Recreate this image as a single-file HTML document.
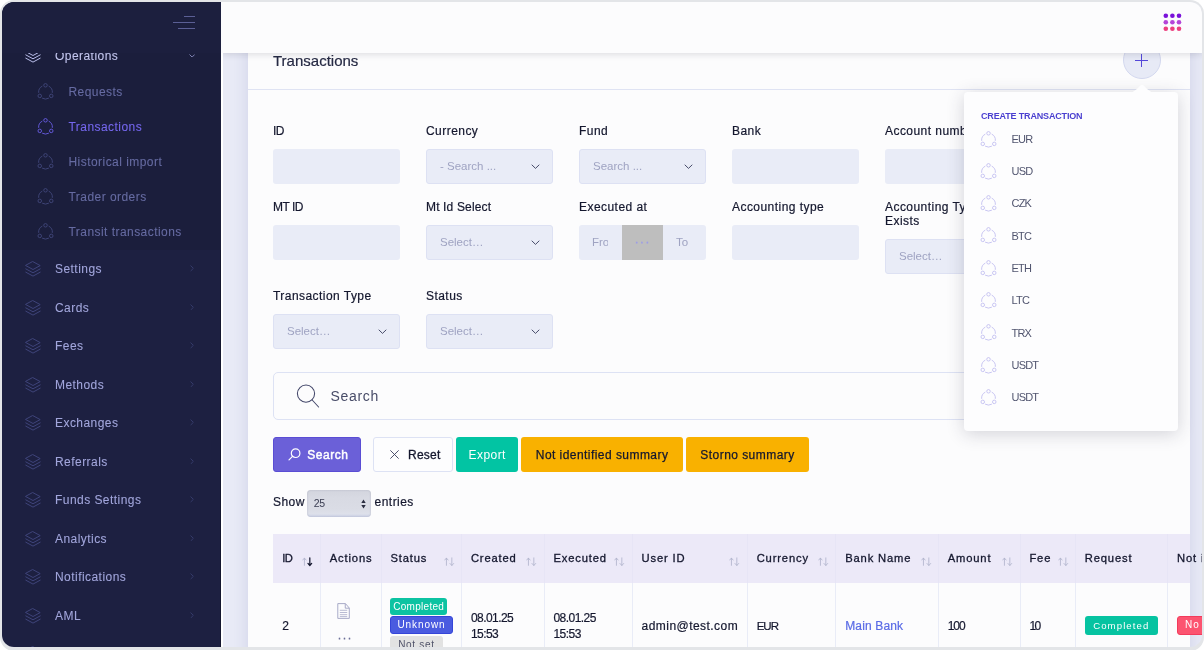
<!DOCTYPE html>
<html lang="en">
<head>
<meta charset="utf-8">
<title>Transactions</title>
<style>
*{box-sizing:border-box;margin:0;padding:0}
html,body{width:1204px;height:650px;overflow:hidden;background:#fff;font-family:"Liberation Sans",sans-serif;font-size:13px;color:#1f2340}
#frame{position:absolute;left:0;top:0;width:1204px;height:650.5px;border-radius:14px;background:#e3e5e8;overflow:hidden}
#app{will-change:transform;position:absolute;left:2px;top:2px;width:1200px;height:645.2px;border-radius:12px;overflow:hidden;background:#e8eaf6}
.abs{position:absolute}
/* sidebar */
#side{position:absolute;left:0;top:0;width:219.1px;height:645px;background:#1d2041;border-right:1px solid #14162f}
#submenu{position:absolute;left:0;top:50px;width:219px;height:198px;background:#1b1e3c}
.mi{position:absolute;left:53px;font-size:12px;letter-spacing:.45px;color:#a2a6dc;white-space:nowrap;line-height:16px}
.si{position:absolute;left:66.5px;font-size:12px;letter-spacing:.45px;color:#666ba2;white-space:nowrap;line-height:16px}
.si.act{color:#7567ee}
.chev{position:absolute;left:186px;width:7px;height:7px}
/* header */
#top{position:absolute;left:219.1px;top:0;width:981px;height:50.7px;background:#fcfcfd;box-shadow:0 1px 7px rgba(30,30,50,.16)}
/* card */
#card{position:absolute;left:246px;top:30px;width:942px;height:640px;background:#fcfcfd;box-shadow:0 0 14px rgba(80,90,160,.16)}
#chead{position:absolute;left:0;top:0;width:942px;height:58px;border-bottom:1px solid #dfe3f3}
h1{position:absolute;left:271px;top:49.7px;font-size:15px;font-weight:400;color:#262a44;line-height:18px;-webkit-text-stroke:.2px #262a44}
.lbl{position:absolute;font-size:13px;line-height:15px;color:#14172e;white-space:nowrap}
.inp{position:absolute;width:127px;height:35px;background:#e9ecf7;border-radius:3px}
.sel{position:absolute;width:127px;height:35px;background:#e9ecf7;border:1px solid #dde1f3;border-radius:3px;color:#9fa3c2;line-height:33px;padding-left:13px}
.sel svg{position:absolute;right:12px;top:14px}
.btn{position:absolute;top:435px;height:35.3px;border-radius:3px;font-size:13px;line-height:35px;text-align:center;white-space:nowrap}
.lbl,.bt{font-size:12px;letter-spacing:.45px}
.sel,.ph{font-size:11.5px;letter-spacing:0}
.ph{color:#9fa3c2;line-height:34px}
.lbl,.td{-webkit-text-stroke:.2px currentColor}
.mi,.si{-webkit-text-stroke:.08px currentColor}
.bt{white-space:nowrap}
.th{position:absolute;top:549.3px;font-size:11.2px;letter-spacing:.85px;line-height:15px;color:#14172e;white-space:nowrap;-webkit-text-stroke:.3px #14172e}
.td{position:absolute;font-size:12px;letter-spacing:.45px;line-height:15px;color:#14172e;white-space:nowrap}
.bdg{position:absolute;border-radius:3px;color:#fff;text-align:center;white-space:nowrap;overflow:hidden}
.dd{position:absolute;left:1009.6px;font-size:11px;letter-spacing:-.85px;line-height:15px;color:#51556f;white-space:nowrap}
</style>
</head>
<body>
<div id="frame"><div id="app">

<!-- page content -->
<div id="card"><div id="chead"></div></div>
<h1>Transactions</h1>
<!-- filter form -->
<div class="lbl" style="left:271px;top:121.5px;letter-spacing:-.7px">ID</div>
<div class="lbl" style="left:424px;top:121.5px">Currency</div>
<div class="lbl" style="left:577px;top:121.5px">Fund</div>
<div class="lbl" style="left:730px;top:121.5px">Bank</div>
<div class="lbl" style="left:883px;top:121.5px">Account number</div>
<div class="inp" style="left:271px;top:147px"></div>
<div class="sel" style="left:424px;top:147px">- Search ...<svg width="9" height="6" viewBox="0 0 9 6"><path d="M1 1 4.5 4.4 8 1" fill="none" stroke="#3f4362" stroke-width=".95" stroke-linecap="round" stroke-linejoin="round"/></svg></div>
<div class="sel" style="left:577px;top:147px">Search ...<svg width="9" height="6" viewBox="0 0 9 6"><path d="M1 1 4.5 4.4 8 1" fill="none" stroke="#3f4362" stroke-width=".95" stroke-linecap="round" stroke-linejoin="round"/></svg></div>
<div class="inp" style="left:730px;top:147px"></div>
<div class="inp" style="left:883px;top:147px"></div>
<div class="lbl" style="left:271px;top:197.5px;letter-spacing:-.5px">MT ID</div>
<div class="lbl" style="left:424px;top:197.5px;letter-spacing:.15px">Mt Id Select</div>
<div class="lbl" style="left:577px;top:197.5px">Executed at</div>
<div class="lbl" style="left:730px;top:197.5px">Accounting type</div>
<div class="lbl" style="left:883px;top:197.5px;white-space:normal;width:127px;line-height:14px">Accounting Type Exists</div>
<div class="inp" style="left:271px;top:223px"></div>
<div class="sel" style="left:424px;top:223px">Select…<svg width="9" height="6" viewBox="0 0 9 6"><path d="M1 1 4.5 4.4 8 1" fill="none" stroke="#3f4362" stroke-width=".95" stroke-linecap="round" stroke-linejoin="round"/></svg></div>
<div class="inp" style="left:730px;top:223px"></div>
<div class="sel" style="left:883px;top:237px">Select…<svg width="9" height="6" viewBox="0 0 9 6"><path d="M1 1 4.5 4.4 8 1" fill="none" stroke="#3f4362" stroke-width=".95" stroke-linecap="round" stroke-linejoin="round"/></svg></div>
<div class="inp" style="left:577px;top:223px;overflow:hidden"><span class="abs ph" style="left:13px;top:0;width:15.5px;overflow:hidden">From</span><div class="abs" style="left:43px;top:0;width:41px;height:35px;background:#bebebe;color:#9c9ce8;text-align:center;line-height:33px;font-size:13px;letter-spacing:1px;-webkit-text-stroke:.3px #9c9ce8">···</div><span class="abs ph" style="left:97px;top:0">To</span></div>
<div class="lbl" style="left:271px;top:286.5px">Transaction Type</div>
<div class="lbl" style="left:424px;top:286.5px">Status</div>
<div class="sel" style="left:271px;top:312px">Select…<svg width="9" height="6" viewBox="0 0 9 6"><path d="M1 1 4.5 4.4 8 1" fill="none" stroke="#3f4362" stroke-width=".95" stroke-linecap="round" stroke-linejoin="round"/></svg></div>
<div class="sel" style="left:424px;top:312px">Select…<svg width="9" height="6" viewBox="0 0 9 6"><path d="M1 1 4.5 4.4 8 1" fill="none" stroke="#3f4362" stroke-width=".95" stroke-linecap="round" stroke-linejoin="round"/></svg></div>
<div class="abs" style="left:271px;top:370px;width:905px;height:47.5px;border:1px solid #dde2f4;border-radius:5px;background:#fcfcfd"></div>
<svg class="abs" style="left:293px;top:381px" width="26" height="26" viewBox="0 0 26 26"><circle cx="11" cy="10.6" r="8.6" fill="none" stroke="#43476a" stroke-width="1.05"/><path d="M17.2 17 23.6 24" stroke="#43476a" stroke-width="1.05" stroke-linecap="round"/></svg>
<div class="abs" style="left:328.5px;top:384.7px;font-size:14px;line-height:18px;color:#484c68;letter-spacing:.68px">Search</div>
<div class="btn" style="left:271px;width:88px;background:#6b60d8;border:1px solid #5a4dd4;color:#fff"><svg class="abs" style="left:14px;top:10.4px" width="13" height="13" viewBox="0 0 13 13"><circle cx="7.6" cy="5.2" r="4.3" fill="none" stroke="#fff" stroke-width="1.2"/><path d="M4.5 8.3 1 11.9" stroke="#fff" stroke-width="1.2" stroke-linecap="round"/></svg><span class="abs bt" style="left:33.3px;top:0;-webkit-text-stroke:.45px #fff;letter-spacing:.5px">Search</span></div>
<div class="btn" style="left:371.2px;width:79.4px;background:#fdfdfe;border:1px solid #dde2f4;color:#14172e"><svg class="abs" style="left:15.8px;top:12.3px" width="9" height="9" viewBox="0 0 10 10"><path d="M.7 .7 9.3 9.3M9.3 .7 .7 9.3" stroke="#3a3e5c" stroke-width="1" stroke-linecap="round"/></svg><span class="abs bt" style="left:33.8px;top:0;-webkit-text-stroke:.3px #14172e;letter-spacing:.25px">Reset</span></div>
<div class="btn" style="left:454px;width:62.4px;background:#02c4a3;color:#fff"><span class="bt">Export</span></div>
<div class="btn" style="left:519.2px;width:161.8px;background:#f9b100;color:#14172e"><span class="bt" style="-webkit-text-stroke:.25px #14172e">Not identified summary</span></div>
<div class="btn" style="left:684px;width:123px;background:#f9b100;color:#14172e"><span class="bt" style="-webkit-text-stroke:.25px #14172e">Storno summary</span></div>
<div class="lbl" style="left:271px;top:493px">Show</div>
<div class="abs" style="left:305.3px;top:488px;width:63.8px;height:26.5px;border-radius:4px;background:linear-gradient(#d3d5de,#d8dae3 30%,#dadce5 70%,#dde0ea 88%,#cdd2e6);box-shadow:inset 0 0 2px rgba(90,95,130,.3);font-size:10.5px;line-height:27px;padding-left:6.5px;color:#3a3d52;letter-spacing:-.3px">25<svg class="abs" style="right:5px;top:9px" width="5" height="10" viewBox="0 0 5 10"><path d="M2.5 .5 4.7 4H.3ZM2.5 9.5 4.7 6H.3Z" fill="#2a2d40"/></svg></div>
<div class="lbl" style="left:372.6px;top:493px">entries</div>
<!-- table -->
<div class="abs" style="left:271px;top:532px;width:917px;height:48.5px;background:#ece9f8"></div>
<div class="abs" style="left:317.5px;top:532px;width:1px;height:48.5px;background:#e7e5f6"></div><div class="abs" style="left:379.1px;top:532px;width:1px;height:48.5px;background:#e7e5f6"></div><div class="abs" style="left:459.0px;top:532px;width:1px;height:48.5px;background:#e7e5f6"></div><div class="abs" style="left:542.1px;top:532px;width:1px;height:48.5px;background:#e7e5f6"></div><div class="abs" style="left:629.6px;top:532px;width:1px;height:48.5px;background:#e7e5f6"></div><div class="abs" style="left:744.9px;top:532px;width:1px;height:48.5px;background:#e7e5f6"></div><div class="abs" style="left:833.0px;top:532px;width:1px;height:48.5px;background:#e7e5f6"></div><div class="abs" style="left:935.6px;top:532px;width:1px;height:48.5px;background:#e7e5f6"></div><div class="abs" style="left:1017.7px;top:532px;width:1px;height:48.5px;background:#e7e5f6"></div><div class="abs" style="left:1072.9px;top:532px;width:1px;height:48.5px;background:#e7e5f6"></div><div class="abs" style="left:1165.1px;top:532px;width:1px;height:48.5px;background:#e7e5f6"></div>
<div class="abs" style="left:317.5px;top:580.5px;width:1px;height:70px;background:#e9ecf7"></div>
<div class="abs" style="left:379.1px;top:580.5px;width:1px;height:70px;background:#e9ecf7"></div>
<div class="abs" style="left:459.0px;top:580.5px;width:1px;height:70px;background:#e9ecf7"></div>
<div class="abs" style="left:542.1px;top:580.5px;width:1px;height:70px;background:#e9ecf7"></div>
<div class="abs" style="left:629.6px;top:580.5px;width:1px;height:70px;background:#e9ecf7"></div>
<div class="abs" style="left:744.9px;top:580.5px;width:1px;height:70px;background:#e9ecf7"></div>
<div class="abs" style="left:833.0px;top:580.5px;width:1px;height:70px;background:#e9ecf7"></div>
<div class="abs" style="left:935.6px;top:580.5px;width:1px;height:70px;background:#e9ecf7"></div>
<div class="abs" style="left:1017.7px;top:580.5px;width:1px;height:70px;background:#e9ecf7"></div>
<div class="abs" style="left:1072.9px;top:580.5px;width:1px;height:70px;background:#e9ecf7"></div>
<div class="abs" style="left:1165.1px;top:580.5px;width:1px;height:70px;background:#e9ecf7"></div>
<div class="th" style="left:280.3px;letter-spacing:-.7px">ID</div>
<svg class="abs" style="left:299.5px;top:554px" width="11.2" height="11.2" viewBox="0 0 12 12" fill="none" stroke-width=".9" stroke-linecap="round" stroke-linejoin="round"><path d="M2.6 10V2.4M.8 4.3 2.6 2.2 4.4 4.3" stroke="#b0b4cc"/><path d="M8.4 2v8M6.4 8 8.4 10.2 10.4 8" stroke="#14172e" stroke-width="1.3"/></svg>
<div class="th" style="left:327.8px">Actions</div>
<div class="th" style="left:388.4px">Status</div>
<svg class="abs" style="left:441.5px;top:554px" width="11.2" height="11.2" viewBox="0 0 12 12" fill="none" stroke-width=".9" stroke-linecap="round" stroke-linejoin="round"><path d="M2.6 10V2.4M.8 4.3 2.6 2.2 4.4 4.3" stroke="#b0b4cc"/><path d="M8.4 2v8M6.4 8 8.4 10.2 10.4 8" stroke="#b0b4cc"/></svg>
<div class="th" style="left:468.9px">Created</div>
<svg class="abs" style="left:524.0px;top:554px" width="11.2" height="11.2" viewBox="0 0 12 12" fill="none" stroke-width=".9" stroke-linecap="round" stroke-linejoin="round"><path d="M2.6 10V2.4M.8 4.3 2.6 2.2 4.4 4.3" stroke="#b0b4cc"/><path d="M8.4 2v8M6.4 8 8.4 10.2 10.4 8" stroke="#b0b4cc"/></svg>
<div class="th" style="left:551.5px">Executed</div>
<svg class="abs" style="left:611.7px;top:554px" width="11.2" height="11.2" viewBox="0 0 12 12" fill="none" stroke-width=".9" stroke-linecap="round" stroke-linejoin="round"><path d="M2.6 10V2.4M.8 4.3 2.6 2.2 4.4 4.3" stroke="#b0b4cc"/><path d="M8.4 2v8M6.4 8 8.4 10.2 10.4 8" stroke="#b0b4cc"/></svg>
<div class="th" style="left:639.6px">User ID</div>
<svg class="abs" style="left:727.4px;top:554px" width="11.2" height="11.2" viewBox="0 0 12 12" fill="none" stroke-width=".9" stroke-linecap="round" stroke-linejoin="round"><path d="M2.6 10V2.4M.8 4.3 2.6 2.2 4.4 4.3" stroke="#b0b4cc"/><path d="M8.4 2v8M6.4 8 8.4 10.2 10.4 8" stroke="#b0b4cc"/></svg>
<div class="th" style="left:754.7px">Currency</div>
<svg class="abs" style="left:815.7px;top:554px" width="11.2" height="11.2" viewBox="0 0 12 12" fill="none" stroke-width=".9" stroke-linecap="round" stroke-linejoin="round"><path d="M2.6 10V2.4M.8 4.3 2.6 2.2 4.4 4.3" stroke="#b0b4cc"/><path d="M8.4 2v8M6.4 8 8.4 10.2 10.4 8" stroke="#b0b4cc"/></svg>
<div class="th" style="left:843.2px">Bank Name</div>
<svg class="abs" style="left:918.7px;top:554px" width="11.2" height="11.2" viewBox="0 0 12 12" fill="none" stroke-width=".9" stroke-linecap="round" stroke-linejoin="round"><path d="M2.6 10V2.4M.8 4.3 2.6 2.2 4.4 4.3" stroke="#b0b4cc"/><path d="M8.4 2v8M6.4 8 8.4 10.2 10.4 8" stroke="#b0b4cc"/></svg>
<div class="th" style="left:945.7px">Amount</div>
<svg class="abs" style="left:1000.0px;top:554px" width="11.2" height="11.2" viewBox="0 0 12 12" fill="none" stroke-width=".9" stroke-linecap="round" stroke-linejoin="round"><path d="M2.6 10V2.4M.8 4.3 2.6 2.2 4.4 4.3" stroke="#b0b4cc"/><path d="M8.4 2v8M6.4 8 8.4 10.2 10.4 8" stroke="#b0b4cc"/></svg>
<div class="th" style="left:1027.4px">Fee</div>
<svg class="abs" style="left:1055.7px;top:554px" width="11.2" height="11.2" viewBox="0 0 12 12" fill="none" stroke-width=".9" stroke-linecap="round" stroke-linejoin="round"><path d="M2.6 10V2.4M.8 4.3 2.6 2.2 4.4 4.3" stroke="#b0b4cc"/><path d="M8.4 2v8M6.4 8 8.4 10.2 10.4 8" stroke="#b0b4cc"/></svg>
<div class="th" style="left:1082.8px">Request</div>
<div class="th" style="left:1175.0px">Not identified</div>
<div class="td" style="left:280.3px;top:616.6px;">2</div>
<svg class="abs" style="left:334.6px;top:601px" width="13.2" height="16" viewBox="0 0 15 16" preserveAspectRatio="none" fill="none" stroke="#a3a5c4" stroke-width="1"><path d="M.9 .6H9.6L14 5V15.4H.9Z M9.4 .8V5.2H13.8" stroke-linejoin="round"/><path d="M3.2 7.3H11.6M3.2 9.5H11.6M3.2 11.7H11.6M3.2 13.6H11.6" stroke-width=".8"/></svg>
<div class="abs" style="left:335.6px;top:628.3px;font-size:12px;line-height:16px;letter-spacing:.9px;color:#6d7199;font-weight:400;-webkit-text-stroke:.3px #6d7199">···</div>
<div class="bdg" style="left:388.4px;top:596px;width:56.6px;height:17.3px;background:#0cc3a2;line-height:17.5px;font-size:10px;letter-spacing:.3px">Completed</div>
<div class="bdg" style="left:388.4px;top:613.7px;width:62.2px;height:18.7px;background:#4a5be0;border:1px solid #3545d8;line-height:16.5px;font-size:10px;letter-spacing:.9px">Unknown</div>
<div class="bdg" style="left:388.4px;top:633.6px;width:52.2px;height:18px;background:#e2e2e2;color:#50536a;line-height:17px;font-size:10px;letter-spacing:.7px">Not set</div>
<div class="td" style="left:468.9px;top:607.9px;line-height:16.2px;letter-spacing:-.55px">08.01.25<br>15:53</div>
<div class="td" style="left:551.5px;top:607.9px;line-height:16.2px;letter-spacing:-.55px">08.01.25<br>15:53</div>
<div class="td" style="left:639.6px;top:616.6px;">admin@test.com</div>
<div class="td" style="left:754.7px;top:616.6px;font-size:11.5px;letter-spacing:-1px">EUR</div>
<div class="td" style="left:843.2px;top:616.6px;color:#5a6be6;letter-spacing:.15px">Main Bank</div>
<div class="td" style="left:945.7px;top:616.6px;letter-spacing:-1px">100</div>
<div class="td" style="left:1027.4px;top:616.6px;letter-spacing:-1.5px">10</div>
<div class="bdg" style="left:1082.8px;top:614px;width:73px;height:18.8px;background:#06c3a1;line-height:19.3px;font-size:9.6px;letter-spacing:1.1px">Completed</div>
<div class="bdg" style="left:1175.0px;top:614px;width:40px;height:18.8px;background:#fc5470;border:1px solid #f33b5c;line-height:16.5px;font-size:10px;letter-spacing:1px;text-align:left;padding-left:7px">No</div>
<div class="abs" style="left:1120.8px;top:39.3px;width:38px;height:38px;border-radius:50%;background:#e7eaf6;border:1px solid #d3d8ef"></div>
<div class="abs" style="left:1133.3px;top:57.9px;width:12.4px;height:1.2px;background:#5548d9"></div>
<div class="abs" style="left:1138.9px;top:52.4px;width:1.2px;height:12.4px;background:#5548d9"></div>


<!-- dropdown -->
<div class="abs" style="left:962px;top:90px;width:214px;height:339px;background:#fdfdfe;border-radius:4px;box-shadow:0 3px 18px rgba(45,45,70,.2)"></div>
<svg class="abs" style="left:1125px;top:82px" width="30" height="9" viewBox="0 0 30 9"><path d="M0 9C6 9 9 6 12.5 2.2 14 .6 16 .6 17.5 2.2 21 6 24 9 30 9Z" fill="#fdfdfe"/></svg>
<div class="abs" style="left:979px;top:108.9px;font-size:9px;font-weight:700;color:#4a3fd0;letter-spacing:-.16px;line-height:11px;white-space:nowrap">CREATE TRANSACTION</div>
<svg class="abs" style="left:978.2px;top:128.5px;color:#c3bff0" width="17" height="17.5"><use href="#nod"/></svg>
<div class="dd" style="top:129.8px">EUR</div>
<svg class="abs" style="left:978.2px;top:160.8px;color:#c3bff0" width="17" height="17.5"><use href="#nod"/></svg>
<div class="dd" style="top:162.1px">USD</div>
<svg class="abs" style="left:978.2px;top:193.1px;color:#c3bff0" width="17" height="17.5"><use href="#nod"/></svg>
<div class="dd" style="top:194.4px">CZK</div>
<svg class="abs" style="left:978.2px;top:225.4px;color:#c3bff0" width="17" height="17.5"><use href="#nod"/></svg>
<div class="dd" style="top:226.7px">BTC</div>
<svg class="abs" style="left:978.2px;top:257.7px;color:#c3bff0" width="17" height="17.5"><use href="#nod"/></svg>
<div class="dd" style="top:259.0px">ETH</div>
<svg class="abs" style="left:978.2px;top:290.0px;color:#c3bff0" width="17" height="17.5"><use href="#nod"/></svg>
<div class="dd" style="top:291.3px">LTC</div>
<svg class="abs" style="left:978.2px;top:322.3px;color:#c3bff0" width="17" height="17.5"><use href="#nod"/></svg>
<div class="dd" style="top:323.6px">TRX</div>
<svg class="abs" style="left:978.2px;top:354.6px;color:#c3bff0" width="17" height="17.5"><use href="#nod"/></svg>
<div class="dd" style="top:355.9px">USDT</div>
<svg class="abs" style="left:978.2px;top:386.9px;color:#c3bff0" width="17" height="17.5"><use href="#nod"/></svg>
<div class="dd" style="top:388.2px">USDT</div>

<!-- top header -->
<div id="top"><svg class="abs" style="left:938.9px;top:8px" width="26" height="26"><circle cx="5.8" cy="5.7" r="2.3" fill="#7a12da"/><circle cx="12.4" cy="5.7" r="2.3" fill="#7a12da"/><circle cx="19.0" cy="5.7" r="2.3" fill="#7a12da"/><circle cx="5.8" cy="12.2" r="2.3" fill="#b545d8"/><circle cx="12.4" cy="12.2" r="2.3" fill="#b545d8"/><circle cx="19.0" cy="12.2" r="2.3" fill="#b545d8"/><circle cx="5.8" cy="18.7" r="2.3" fill="#ec3f7e"/><circle cx="12.4" cy="18.7" r="2.3" fill="#ec3f7e"/><circle cx="19.0" cy="18.7" r="2.3" fill="#ec3f7e"/></svg></div>

<div class="abs" style="left:219.1px;top:50.7px;width:1.5px;height:600px;background:#fff"></div>
<!-- sidebar -->
<div id="side">
  <div id="submenu"></div>
  <svg width="0" height="0" style="position:absolute">
 <defs>
  <symbol id="lay" viewBox="0 0 16 16"><path d="M8 .7 15.2 4.6 8 8.5 .8 4.6Z M.8 7.9 8 11.8 15.2 7.9 M.8 11.2 8 15.1 15.2 11.2" fill="none" stroke="currentColor" stroke-width="1" stroke-linejoin="round" stroke-linecap="round"/></symbol>
  <symbol id="nod" viewBox="0 0 17 17.5"><g fill="none" stroke="currentColor" stroke-width=".9"><circle cx="8.5" cy="2.3" r="1.75"/><circle cx="2.75" cy="12.9" r="1.75"/><circle cx="14.25" cy="12.9" r="1.75"/><path d="M5.33 3.08A6.86 6.86 0 0 0 1.67 9.82M11.67 3.08A6.86 6.86 0 0 1 15.33 9.82M5.12 15.13A6.86 6.86 0 0 0 11.88 15.13"/></g></symbol>
  <symbol id="chr" viewBox="0 0 5 8"><path d="M1 1 4 4 1 7" fill="none" stroke="currentColor" stroke-width="1" stroke-linecap="round" stroke-linejoin="round"/></symbol>
  <symbol id="chd" viewBox="0 0 8 5"><path d="M1 1 4 4 7 1" fill="none" stroke="currentColor" stroke-width="1" stroke-linecap="round" stroke-linejoin="round"/></symbol>
 </defs>
</svg>
  <svg class="abs" style="left:22.5px;top:44.5px;color:#b9bdea" width="16" height="16"><use href="#lay"/></svg>
  <div class="mi" style="top:46.05px;color:#c3c6ee">Operations</div>
  <svg class="abs" style="left:186.5px;top:51.5px;color:#9a9fd4" width="6.2" height="3.9"><use href="#chd"/></svg>
  <svg class="abs" style="left:35.1px;top:81.1px;color:#42477c" width="17" height="17.5"><use href="#nod"/></svg>
  <div class="si" style="top:82.35px">Requests</div>
  <svg class="abs" style="left:35.1px;top:116.1px;color:#6a5de6" width="17" height="17.5"><use href="#nod"/></svg>
  <div class="si act" style="top:117.35px">Transactions</div>
  <svg class="abs" style="left:35.1px;top:151.1px;color:#42477c" width="17" height="17.5"><use href="#nod"/></svg>
  <div class="si" style="top:152.35px">Historical import</div>
  <svg class="abs" style="left:35.1px;top:186.1px;color:#42477c" width="17" height="17.5"><use href="#nod"/></svg>
  <div class="si" style="top:187.35px">Trader orders</div>
  <svg class="abs" style="left:35.1px;top:221.1px;color:#42477c" width="17" height="17.5"><use href="#nod"/></svg>
  <div class="si" style="top:222.35px">Transit transactions</div>
  <svg class="abs" style="left:22.5px;top:259.0px;color:#3f447a" width="16" height="16"><use href="#lay"/></svg>
  <div class="mi" style="top:259.15px">Settings</div>
  <svg class="abs" style="left:187.5px;top:263.0px;color:#3a3f72" width="4.2" height="6.7"><use href="#chr"/></svg>
  <svg class="abs" style="left:22.5px;top:297.5px;color:#3f447a" width="16" height="16"><use href="#lay"/></svg>
  <div class="mi" style="top:297.65px">Cards</div>
  <svg class="abs" style="left:187.5px;top:301.5px;color:#3a3f72" width="4.2" height="6.7"><use href="#chr"/></svg>
  <svg class="abs" style="left:22.5px;top:336.0px;color:#3f447a" width="16" height="16"><use href="#lay"/></svg>
  <div class="mi" style="top:336.15px">Fees</div>
  <svg class="abs" style="left:187.5px;top:340.0px;color:#3a3f72" width="4.2" height="6.7"><use href="#chr"/></svg>
  <svg class="abs" style="left:22.5px;top:374.5px;color:#3f447a" width="16" height="16"><use href="#lay"/></svg>
  <div class="mi" style="top:374.65px">Methods</div>
  <svg class="abs" style="left:187.5px;top:378.5px;color:#3a3f72" width="4.2" height="6.7"><use href="#chr"/></svg>
  <svg class="abs" style="left:22.5px;top:413.0px;color:#3f447a" width="16" height="16"><use href="#lay"/></svg>
  <div class="mi" style="top:413.15px">Exchanges</div>
  <svg class="abs" style="left:187.5px;top:417.0px;color:#3a3f72" width="4.2" height="6.7"><use href="#chr"/></svg>
  <svg class="abs" style="left:22.5px;top:451.5px;color:#3f447a" width="16" height="16"><use href="#lay"/></svg>
  <div class="mi" style="top:451.65px">Referrals</div>
  <svg class="abs" style="left:187.5px;top:455.5px;color:#3a3f72" width="4.2" height="6.7"><use href="#chr"/></svg>
  <svg class="abs" style="left:22.5px;top:490.0px;color:#3f447a" width="16" height="16"><use href="#lay"/></svg>
  <div class="mi" style="top:490.15px">Funds Settings</div>
  <svg class="abs" style="left:187.5px;top:494.0px;color:#3a3f72" width="4.2" height="6.7"><use href="#chr"/></svg>
  <svg class="abs" style="left:22.5px;top:528.5px;color:#3f447a" width="16" height="16"><use href="#lay"/></svg>
  <div class="mi" style="top:528.65px">Analytics</div>
  <svg class="abs" style="left:187.5px;top:532.5px;color:#3a3f72" width="4.2" height="6.7"><use href="#chr"/></svg>
  <svg class="abs" style="left:22.5px;top:567.0px;color:#3f447a" width="16" height="16"><use href="#lay"/></svg>
  <div class="mi" style="top:567.15px">Notifications</div>
  <svg class="abs" style="left:187.5px;top:571.0px;color:#3a3f72" width="4.2" height="6.7"><use href="#chr"/></svg>
  <svg class="abs" style="left:22.5px;top:605.5px;color:#3f447a" width="16" height="16"><use href="#lay"/></svg>
  <div class="mi" style="top:605.65px">AML</div>
  <svg class="abs" style="left:187.5px;top:609.5px;color:#3a3f72" width="4.2" height="6.7"><use href="#chr"/></svg>
  <svg class="abs" style="left:22.5px;top:644px;color:#3f447a" width="16" height="16"><use href="#lay"/></svg>
  <div class="abs" style="left:0;top:0;width:219px;height:50.5px;background:#1c1f3e"></div>
  <div class="abs" style="left:181.8px;top:14px;width:11.2px;height:1px;background:#5b5f95"></div>
  <div class="abs" style="left:170.5px;top:20px;width:22.5px;height:1px;background:#5b5f95"></div>
  <div class="abs" style="left:176px;top:26px;width:17px;height:1px;background:#5b5f95"></div>
</div>

</div></div>
</body>
</html>
